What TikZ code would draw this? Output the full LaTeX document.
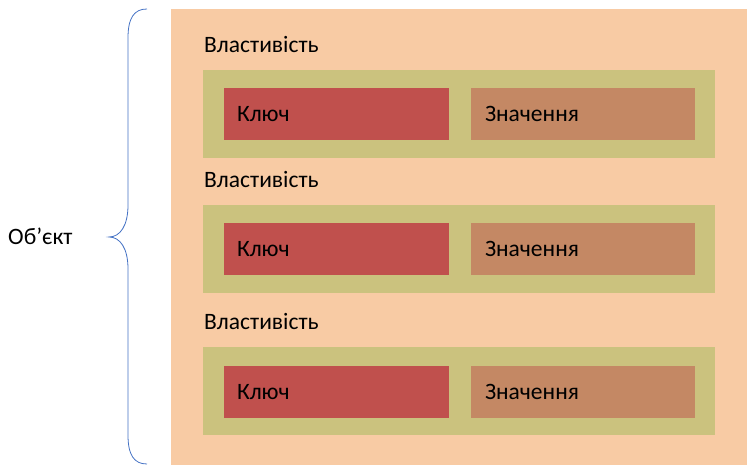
\documentclass[tikz,border=0pt]{standalone}
\usepackage{fontspec}
\setmainfont{Carlito}
\usepackage{tikz}

\definecolor{objfill}{HTML}{F8CBA4}
\definecolor{propfill}{HTML}{CBC27E}
\definecolor{keyfill}{HTML}{C0504D}
\definecolor{valfill}{HTML}{C48864}
\definecolor{bracecol}{HTML}{4472C4}

\begin{document}
\begin{tikzpicture}[x=1pt, y=-1pt,
		box_style/.style={rectangle,anchor=north west,inner sep=0pt,outer sep=0pt},
		obj_style/.style={box_style,fill=objfill,minimum width=576pt,minimum height=456pt},
		prop_style/.style={box_style,fill=propfill,minimum width=512pt,minimum height=88pt},
		key_style/.style={box_style,fill=keyfill,minimum width=225pt,minimum height=52pt,
			text width=199pt,inner xsep=13pt,align=left,font=\fontsize{23.5}{27}\selectfont},
		val_style/.style={box_style,fill=valfill,minimum width=224pt,minimum height=52pt,
			text width=196pt,inner xsep=14pt,align=left,font=\fontsize{23.5}{27}\selectfont},
		label_style/.style={anchor=base west,inner sep=0pt,font=\fontsize{23.5}{27}\selectfont},
		brace_style/.style={draw=bracecol,line width=0.8pt}]

		\useasboundingbox (0,0) rectangle (753,470);

		\node[obj_style] (obj) at (171,9) {};

		\node[label_style] (prop1) at (204,53) {Властивість};
		\node[prop_style] (row1) at (203,70) {};
		\node[key_style] (key1) at (224,88) {Ключ};
		\node[val_style] (val1) at (471,88) {Значення};

		\node[label_style] (prop2) at (204,188) {Властивість};
		\node[prop_style] (row2) at (203,205) {};
		\node[key_style] (key2) at (224,223) {Ключ};
		\node[val_style] (val2) at (471,223) {Значення};

		\node[label_style] (prop3) at (204,330) {Властивість};
		\node[prop_style] (row3) at (203,347) {};
		\node[key_style] (key3) at (224,366) {Ключ};
		\node[val_style] (val3) at (471,366) {Значення};

		\node[label_style] (objname) at (8,245) {Об’єкт};

		% curly brace round the object
		\coordinate (btop) at (147,9);
		\coordinate (btip) at (109,237);
		\coordinate (bbot) at (147,464);
		\draw[brace_style] (btop) .. controls (134,9) and (128,18) .. (128,38)
			-- (128,205) .. controls (128,226) and (120,237) .. (btip)
			.. controls (120,237) and (128,248) .. (128,269)
			-- (128,435) .. controls (128,455) and (134,464) .. (bbot);
\end{tikzpicture}
\end{document}
